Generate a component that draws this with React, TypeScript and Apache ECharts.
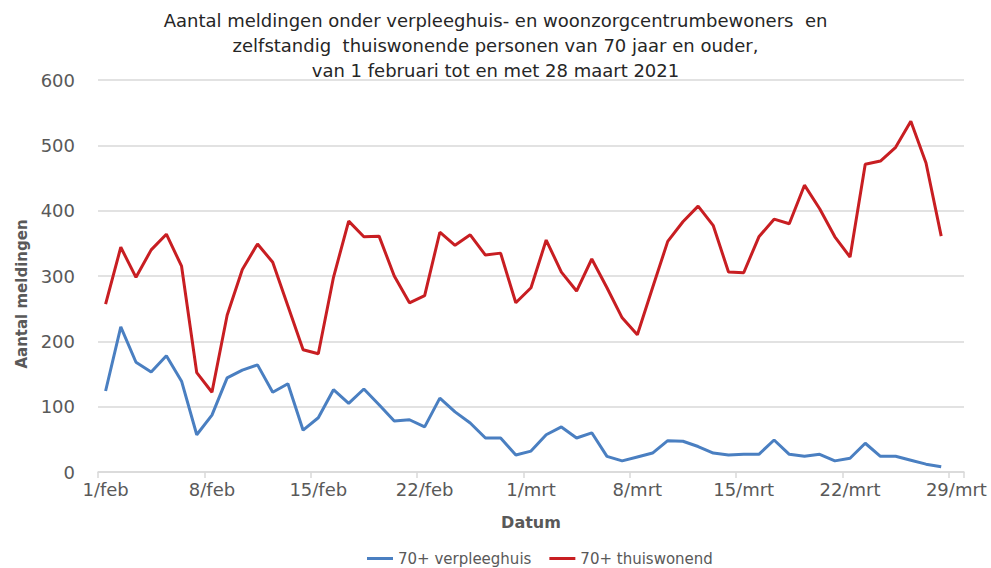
import React, { useEffect, useRef } from "react";
import * as echarts from "echarts";

const titleLines = [
  "Aantal meldingen onder verpleeghuis- en woonzorgcentrumbewoners  en",
  "zelfstandig  thuiswonende personen van 70 jaar en ouder,",
  "van 1 februari tot en met 28 maart 2021",
];

const dates = [
  "1/feb", "2/feb", "3/feb", "4/feb", "5/feb", "6/feb", "7/feb", "8/feb", "9/feb", "10/feb",
  "11/feb", "12/feb", "13/feb", "14/feb", "15/feb", "16/feb", "17/feb", "18/feb", "19/feb", "20/feb",
  "21/feb", "22/feb", "23/feb", "24/feb", "25/feb", "26/feb", "27/feb", "28/feb",
  "1/mrt", "2/mrt", "3/mrt", "4/mrt", "5/mrt", "6/mrt", "7/mrt", "8/mrt", "9/mrt", "10/mrt",
  "11/mrt", "12/mrt", "13/mrt", "14/mrt", "15/mrt", "16/mrt", "17/mrt", "18/mrt", "19/mrt", "20/mrt",
  "21/mrt", "22/mrt", "23/mrt", "24/mrt", "25/mrt", "26/mrt", "27/mrt", "28/mrt", "29/mrt",
];

const verpleeghuis = [
  124, 222, 168, 153, 178, 139, 57, 87, 144, 156,
  164, 122, 135, 64, 83, 126, 105, 127, 103, 78,
  80, 69, 113, 92, 75, 52, 52, 26, 32, 57,
  69, 52, 60, 24, 17, 23, 29, 48, 47, 39,
  29, 26, 27, 27, 49, 27, 24, 27, 17, 21,
  44, 24, 24, 18, 12, 8,
];

const thuiswonend = [
  257, 344, 298, 340, 364, 315, 152, 122, 240, 310,
  349, 321, 254, 187, 181, 298, 384, 360, 361, 300,
  259, 270, 367, 347, 363, 332, 335, 259, 282, 355,
  306, 277, 326, 282, 236, 210, 282, 353, 383, 407,
  377, 306, 305, 360, 387, 380, 439, 403, 360, 329,
  471, 476, 497, 537, 473, 361,
];

const seriesNames = ["70+ verpleeghuis", "70+ thuiswonend"];
const seriesColors = ["#4A7FC1", "#C81E22"];

const FONT = "DejaVu Sans";

export default function App() {
  const ref = useRef<HTMLDivElement>(null);

  useEffect(() => {
    if (!ref.current) return;
    const chart = echarts.init(ref.current, null, { renderer: "svg" });
    chart.setOption({
      animation: false,
      backgroundColor: "#ffffff",
      title: {
        text: titleLines.join("\n"),
        left: "center",
        top: 8,
        padding: 0,
        textStyle: {
          fontFamily: FONT,
          fontSize: 18,
          fontWeight: "normal",
          color: "#262626",
          lineHeight: 25,
          align: "center",
        },
      },
      legend: {
        left: 362,
        top: 546,
        itemGap: 18,
        itemWidth: 26,
        itemHeight: 3,
        icon: "rect",
        textStyle: { fontFamily: FONT, fontSize: 15, color: "#595959" },
        data: seriesNames,
      },
      grid: { left: 98, right: 27, top: 80, bottom: 96 },
      xAxis: {
        type: "category",
        data: dates,
        boundaryGap: true,
        name: "Datum",
        nameLocation: "middle",
        nameGap: 42,
        nameTextStyle: { fontFamily: FONT, fontSize: 16, fontWeight: "bold", color: "#595959" },
        axisLine: { lineStyle: { color: "#D9D9D9", width: 1.5 } },
        axisTick: { show: true, interval: 6, length: 6, lineStyle: { color: "#D9D9D9", width: 1.5 } },
        axisLabel: { interval: 6, margin: 8, fontFamily: FONT, fontSize: 18, color: "#595959" },
        splitLine: { show: false },
      },
      yAxis: {
        type: "value",
        min: 0,
        max: 600,
        interval: 100,
        name: "Aantal meldingen",
        nameLocation: "middle",
        nameGap: 69,
        nameTextStyle: {
          fontFamily: FONT,
          fontSize: 15,
          fontWeight: "bold",
          color: "#595959",
          padding: [0, 36, 0, 0],
        },
        axisLine: { show: false },
        axisTick: { show: false },
        axisLabel: { margin: 23, fontFamily: FONT, fontSize: 18, color: "#595959" },
        splitLine: { lineStyle: { color: "#D9D9D9", width: 1.5 } },
      },
      series: [
        {
          name: seriesNames[0],
          type: "line",
          data: verpleeghuis,
          symbol: "none",
          lineStyle: { color: seriesColors[0], width: 3 },
          itemStyle: { color: seriesColors[0] },
        },
        {
          name: seriesNames[1],
          type: "line",
          data: thuiswonend,
          symbol: "none",
          lineStyle: { color: seriesColors[1], width: 3 },
          itemStyle: { color: seriesColors[1] },
        },
      ],
    });
    return () => chart.dispose();
  }, []);

  return (
    <div
      ref={ref}
      style={{ position: "fixed", left: 0, top: 0, width: 991, height: 568, background: "#fff" }}
    />
  );
}
